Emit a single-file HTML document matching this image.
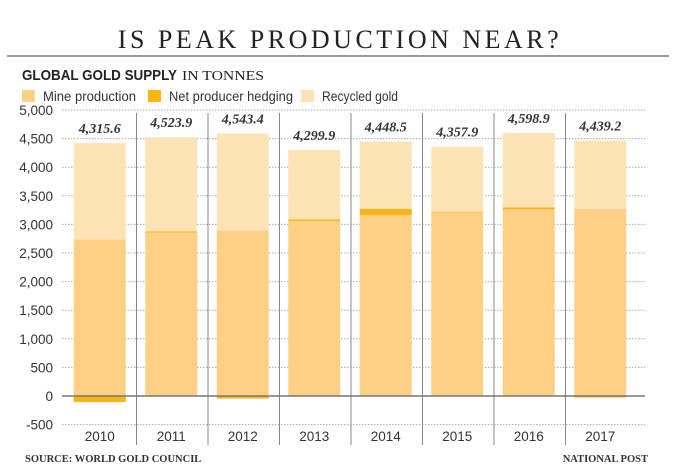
<!DOCTYPE html>
<html><head><meta charset="utf-8"><style>
body{margin:0;background:#fff;width:680px;height:474px;overflow:hidden}
svg{display:block}
</style></head><body>
<svg width="680" height="474">
<text x="340" y="48" text-anchor="middle" font-family="Liberation Serif, serif" font-size="26" letter-spacing="3.5" fill="#222">IS PEAK PRODUCTION NEAR?</text>
<rect x="7" y="55" width="662" height="2" fill="#999"/>
<g id="hdr"></g>
<g id="legend"></g>
<g id="grid"></g>
<g id="bars"></g>
<text x="25" y="462" font-family="Liberation Serif, serif" font-size="10.5" font-weight="bold" fill="#333">SOURCE: WORLD GOLD COUNCIL</text>
<text x="648" y="462" text-anchor="end" font-family="Liberation Serif, serif" font-size="10.5" font-weight="bold" fill="#333">NATIONAL POST</text>
</svg>
<script>
const years=["2010","2011","2012","2013","2014","2015","2016","2017"];
const mine=[2735,2859,2897,3061,3165,3209,3263,3269];
const hedging=[-106,18,-45,27,105,13,33,-26];
const recycled=[1687,1647,1691,1212,1178,1136,1303,1196];
const totals=["4,315.6","4,523.9","4,543.4","4,299.9","4,448.5","4,357.9","4,598.9","4,439.2"];
const ticks=[-500,0,500,1000,1500,2000,2500,3000,3500,4000,4500,5000];
const NS="http://www.w3.org/2000/svg";
const y0=396, k=0.0572, left=64, cw=71.5, bw=52, plotL=62, plotR=645;
const Y=v=>y0-v*k;
const X=i=>left+i*cw;
function mk(t,a,p){const e=document.createElementNS(NS,t);for(const n in a)e.setAttribute(n,a[n]);p.appendChild(e);return e;}
const hdr=document.getElementById('hdr');
let s=mk('text',{x:22,y:80,'font-family':'Liberation Sans, sans-serif','font-size':15,'font-weight':'bold',fill:'#222',textLength:155,lengthAdjust:'spacingAndGlyphs'},hdr);
s.textContent="GLOBAL GOLD SUPPLY";


s=mk('text',{x:182,y:80,'font-family':'Liberation Serif, serif','font-size':14,fill:'#222',textLength:82,lengthAdjust:'spacingAndGlyphs'},hdr);
s.textContent="IN TONNES";


const lg=document.getElementById('legend');
const leg=[["Mine production","#fdd086",22,93],["Net producer hedging","#fbb416",148,124],["Recycled gold","#fde3b5",301,76]];
leg.forEach(l=>{
 const g=mk('g',{},lg);
 
 
 mk('rect',{x:l[2],y:90,width:13,height:12,fill:l[1]},g);
 const t=mk('text',{x:l[2]+21,y:101,'font-family':'Liberation Sans, sans-serif','font-size':13.5,fill:'#333',textLength:l[3],lengthAdjust:'spacingAndGlyphs'},g);
 t.textContent=l[0];
});
const gr=document.getElementById('grid');
ticks.forEach(v=>{
 if(v!==0){const l=mk('line',{x1:plotL,x2:plotR,y1:Y(v),y2:Y(v),stroke:'#aaa','stroke-width':1,'stroke-dasharray':'1.5,1.5'},gr);
 
 }
 const t=mk('text',{x:53,y:Y(v)+5,'text-anchor':'end','font-family':'Liberation Sans, sans-serif','font-size':13.5,fill:'#333'},gr);
 t.textContent=v.toLocaleString('en-US');
 
 
});
for(let i=1;i<years.length;i++){
 const l=mk('line',{x1:X(i)+1,x2:X(i)+1,y1:113,y2:445,stroke:'#888','stroke-width':1},gr);
 
 
}
const bg=document.getElementById('bars');
years.forEach((yr,i)=>{
 const bx=X(i)+(cw-bw)/2;
 let top=mine[i];
 let r=mk('rect',{x:bx,y:Y(mine[i]),width:bw,height:mine[i]*k,fill:'#fdd086'},bg);
 
 
 if(hedging[i]>=0){
  r=mk('rect',{x:bx,y:Y(mine[i]+hedging[i]),width:bw,height:hedging[i]*k,fill:'#fbb416'},bg);
  top=mine[i]+hedging[i];
 } else {
  r=mk('rect',{x:bx,y:Y(0),width:bw,height:-hedging[i]*k,fill:'#fbb416'},bg);
 }
 
 
 r=mk('rect',{x:bx,y:Y(top+recycled[i]),width:bw,height:recycled[i]*k,fill:'#fde3b5'},bg);
 
 
 const t=mk('text',{x:bx+bw/2,y:Y(top+recycled[i])-10,'text-anchor':'middle','font-family':'Liberation Serif, serif','font-size':14,'font-style':'italic','font-weight':'bold',fill:'#333'},bg);
 t.textContent=totals[i];
 
 
 const xl=mk('text',{x:bx+bw/2,y:441,'text-anchor':'middle','font-family':'Liberation Sans, sans-serif','font-size':13.5,fill:'#333'},bg);
 xl.textContent=yr;
 
 
});
const z=mk('line',{x1:plotL,x2:plotR,y1:Y(0),y2:Y(0),stroke:'#777','stroke-width':1.5},bg);


</script>
</body></html>
